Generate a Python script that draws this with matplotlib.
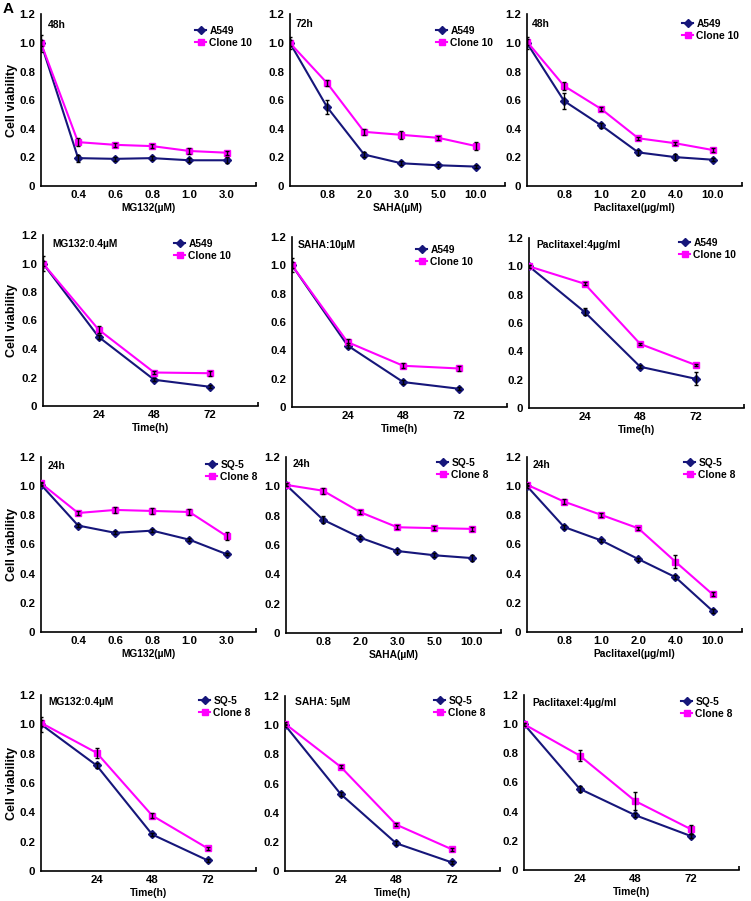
import matplotlib
matplotlib.use("Agg")
import matplotlib.pyplot as plt
from matplotlib.ticker import FixedLocator

plt.rcParams['font.family'] = ['Liberation Sans', 'DejaVu Sans']
plt.rcParams['font.weight'] = 'bold'

W, H = 751, 901

# ---------------- data ----------------
dose_pos = [0, 1, 2, 3, 4, 5]
time_pos = [0, 24, 48, 72]

mg132_ticks = ['0.4', '0.6', '0.8', '1.0', '3.0']
saha_ticks = ['0.8', '2.0', '3.0', '5.0', '10.0']
pacli_ticks = ['0.8', '1.0', '2.0', '4.0', '10.0']
time_ticks = ['24', '48', '72']

# Row 1: A549 vs Clone 10, dose
p1_a549 = [1.0, 0.195, 0.19, 0.195, 0.18, 0.18]
p1_a549_err = [0.06, 0.025, 0.015, 0.015, 0.015, 0.02]
p1_clone = [1.0, 0.307, 0.288, 0.279, 0.245, 0.233]
p1_clone_err = [0.02, 0.03, 0.012, 0.015, 0.02, 0.015]

p2_a549 = [1.0, 0.552, 0.22, 0.159, 0.145, 0.136]
p2_a549_err = [0.04, 0.05, 0.02, 0.015, 0.01, 0.01]
p2_clone = [1.0, 0.72, 0.379, 0.358, 0.337, 0.28]
p2_clone_err = [0.02, 0.02, 0.02, 0.03, 0.012, 0.025]

p3_a549 = [1.0, 0.595, 0.424, 0.235, 0.202, 0.184]
p3_a549_err = [0.04, 0.055, 0.015, 0.02, 0.02, 0.012]
p3_clone = [1.01, 0.70, 0.539, 0.334, 0.299, 0.252]
p3_clone_err = [0.02, 0.025, 0.012, 0.012, 0.012, 0.012]

# Row 2: A549 vs Clone 10, time
p4_a549 = [1.0, 0.485, 0.184, 0.135]
p4_a549_err = [0.05, 0.015, 0.012, 0.012]
p4_clone = [1.0, 0.536, 0.235, 0.23]
p4_clone_err = [0.02, 0.025, 0.012, 0.018]

p5_a549 = [1.0, 0.434, 0.176, 0.129]
p5_a549_err = [0.05, 0.015, 0.012, 0.012]
p5_clone = [1.0, 0.458, 0.291, 0.272]
p5_clone_err = [0.02, 0.02, 0.018, 0.02]

p6_a549 = [1.0, 0.678, 0.291, 0.206]
p6_a549_err = [0.01, 0.025, 0.012, 0.045]
p6_clone = [1.0, 0.877, 0.452, 0.303]
p6_clone_err = [0.01, 0.01, 0.01, 0.01]

# Row 3: SQ-5 vs Clone 8, dose
p7_sq5 = [1.01, 0.73, 0.68, 0.695, 0.633, 0.534]
p7_sq5_err = [0.01, 0.012, 0.01, 0.01, 0.01, 0.008]
p7_clone = [1.02, 0.816, 0.837, 0.83, 0.823, 0.658]
p7_clone_err = [0.01, 0.012, 0.02, 0.02, 0.02, 0.03]

p8_sq5 = [1.01, 0.772, 0.65, 0.559, 0.53, 0.511]
p8_sq5_err = [0.01, 0.025, 0.01, 0.015, 0.015, 0.02]
p8_clone = [1.01, 0.97, 0.824, 0.721, 0.715, 0.71]
p8_clone_err = [0.01, 0.02, 0.012, 0.012, 0.015, 0.015]

p9_sq5 = [1.0, 0.72, 0.628, 0.50, 0.376, 0.145]
p9_sq5_err = [0.01, 0.012, 0.01, 0.01, 0.012, 0.012]
p9_clone = [1.01, 0.894, 0.803, 0.711, 0.482, 0.259]
p9_clone_err = [0.01, 0.015, 0.015, 0.012, 0.045, 0.012]

# Row 4: SQ-5 vs Clone 8, time
p10_sq5 = [1.0, 0.72, 0.249, 0.072]
p10_sq5_err = [0.05, 0.015, 0.01, 0.008]
p10_clone = [1.01, 0.806, 0.378, 0.154]
p10_clone_err = [0.02, 0.035, 0.02, 0.01]

p11_sq5 = [1.0, 0.528, 0.19, 0.059]
p11_sq5_err = [0.01, 0.012, 0.015, 0.008]
p11_clone = [1.01, 0.715, 0.318, 0.149]
p11_clone_err = [0.01, 0.012, 0.01, 0.01]

p12_sq5 = [1.0, 0.557, 0.376, 0.233]
p12_sq5_err = [0.01, 0.02, 0.012, 0.012]
p12_clone = [1.0, 0.785, 0.473, 0.28]
p12_clone_err = [0.01, 0.04, 0.06, 0.03]

# ---------------- style ----------------
NAVY = '#16167a'
MAG = '#ff00ff'
TFS = 8.2   # tick labels
LFS = 7.4   # legend / notes / xlabel

fig = plt.figure(figsize=(W / 100, H / 100), dpi=100)


def fx(px):
    return px / W


def fy(py):
    return 1 - py / H


def make_axes(x0, y0, ytop, width_px):
    return fig.add_axes([fx(x0), fy(y0), width_px / W, (y0 - ytop) / H])


panels = [
    (41, 186, 14.5, 'dose', mg132_ticks, 'MG132(µM)', '48h', (48, 25), (195, 26), ('A549', 'Clone 10'),
     p1_a549, p1_a549_err, p1_clone, p1_clone_err, True),
    (290, 186, 14.5, 'dose', saha_ticks, 'SAHA(µM)', '72h', (295, 24), (436, 26), ('A549', 'Clone 10'),
     p2_a549, p2_a549_err, p2_clone, p2_clone_err, False),
    (527, 186, 14.5, 'dose', pacli_ticks, 'Paclitaxel(µg/ml)', '48h', (532, 24), (682, 19), ('A549', 'Clone 10'),
     p3_a549, p3_a549_err, p3_clone, p3_clone_err, False),
    (43, 406, 235, 'time', time_ticks, 'Time(h)', 'MG132:0.4µM', (52, 244), (174, 239), ('A549', 'Clone 10'),
     p4_a549, p4_a549_err, p4_clone, p4_clone_err, True),
    (292, 407, 237, 'time', time_ticks, 'Time(h)', 'SAHA:10µM', (298, 245), (416, 245), ('A549', 'Clone 10'),
     p5_a549, p5_a549_err, p5_clone, p5_clone_err, False),
    (529, 408, 238, 'time', time_ticks, 'Time(h)', 'Paclitaxel:4µg/ml', (536, 245), (679, 238), ('A549', 'Clone 10'),
     p6_a549, p6_a549_err, p6_clone, p6_clone_err, False),
    (41, 632, 457, 'dose', mg132_ticks, 'MG132(µM)', '24h', (48, 466), (206, 460), ('SQ-5', 'Clone 8'),
     p7_sq5, p7_sq5_err, p7_clone, p7_clone_err, True),
    (286, 633, 457, 'dose', saha_ticks, 'SAHA(µM)', '24h', (293, 464), (437, 458), ('SQ-5', 'Clone 8'),
     p8_sq5, p8_sq5_err, p8_clone, p8_clone_err, False),
    (527, 632, 457, 'dose', pacli_ticks, 'Paclitaxel(µg/ml)', '24h', (533, 465), (684, 458), ('SQ-5', 'Clone 8'),
     p9_sq5, p9_sq5_err, p9_clone, p9_clone_err, False),
    (41, 871, 695, 'time', time_ticks, 'Time(h)', 'MG132:0.4µM', (48, 702), (199, 696), ('SQ-5', 'Clone 8'),
     p10_sq5, p10_sq5_err, p10_clone, p10_clone_err, True),
    (285, 871, 696, 'time', time_ticks, 'Time(h)', 'SAHA: 5µM', (295, 702), (434, 696), ('SQ-5', 'Clone 8'),
     p11_sq5, p11_sq5_err, p11_clone, p11_clone_err, False),
    (524, 870, 695, 'time', time_ticks, 'Time(h)', 'Paclitaxel:4µg/ml', (532, 703), (681, 697), ('SQ-5', 'Clone 8'),
     p12_sq5, p12_sq5_err, p12_clone, p12_clone_err, False),
]

for (x0, y0, ytop, kind, xt, xlab, note, nxy, lxy, names, s1, e1, s2, e2, ylab) in panels:
    if kind == 'dose':
        xs = dose_pos
        per = 37.1
        xmax = 5.8
        tick_pos = dose_pos[1:]
    else:
        xs = time_pos
        per = 55.6 / 24
        xmax = 93
        tick_pos = time_pos[1:]
    width = min(xmax * per, W - 2 - x0)
    ax = make_axes(x0, y0, ytop, width)
    ax.set_xlim(0, width / per)
    ax.set_ylim(0, 1.2)

    ax.plot(xs, s1, color=NAVY, lw=1.5, marker='D', ms=3.6, mec=NAVY, mfc=NAVY,
            label=names[0], zorder=3)
    ax.plot(xs, s2, color=MAG, lw=1.5, marker='s', ms=3.8, mec=MAG, mfc=MAG,
            label=names[1], zorder=3)
    ax.errorbar(xs, s1, yerr=e1, fmt='none', ecolor='black', elinewidth=1.0,
                capsize=1.6, capthick=1.0, zorder=4)
    ax.errorbar(xs, s2, yerr=e2, fmt='none', ecolor='black', elinewidth=1.0,
                capsize=1.6, capthick=1.0, zorder=4)

    for sp in ('top', 'right'):
        ax.spines[sp].set_visible(False)
    for sp in ('left', 'bottom'):
        ax.spines[sp].set_linewidth(1.2)
        ax.spines[sp].set_color('black')

    ax.set_yticks([0, 0.2, 0.4, 0.6, 0.8, 1.0, 1.2])
    ax.set_yticklabels(['0', '0.2', '0.4', '0.6', '0.8', '1.0', '1.2'],
                       fontsize=TFS, fontweight='bold')
    ax.set_xticks(tick_pos)
    ax.set_xticklabels(xt, fontsize=TFS, fontweight='bold')
    ax.tick_params(axis='both', which='major', length=0)
    ax.tick_params(axis='y', pad=4)
    ax.tick_params(axis='x', pad=3)
    ax.yaxis.set_minor_locator(FixedLocator([1.2]))
    ax.xaxis.set_minor_locator(FixedLocator([width / per]))
    ax.tick_params(which='minor', direction='in', length=3, width=1.2)

    ax.set_xlabel(xlab, fontsize=LFS, fontweight='bold', labelpad=2)
    if ylab:
        ax.set_ylabel('Cell viability', fontsize=9, fontweight='bold')
        ax.yaxis.set_label_coords((18 - x0) / width, 0.5)

    fig.text(fx(nxy[0]), fy(nxy[1]), note, fontsize=LFS, fontweight='bold',
             ha='left', va='center')

    ax.legend(loc='upper left', bbox_to_anchor=(fx(lxy[0]), fy(lxy[1])),
              bbox_transform=fig.transFigure, frameon=False,
              handlelength=1.1, handletextpad=0.3,
              labelspacing=0.2, borderpad=0, borderaxespad=0,
              prop={'weight': 'bold', 'size': LFS})

fig.text(fx(3), fy(9), 'A', fontsize=11, fontweight='bold', ha='left', va='center')

fig.savefig('out.png', dpi=100)
